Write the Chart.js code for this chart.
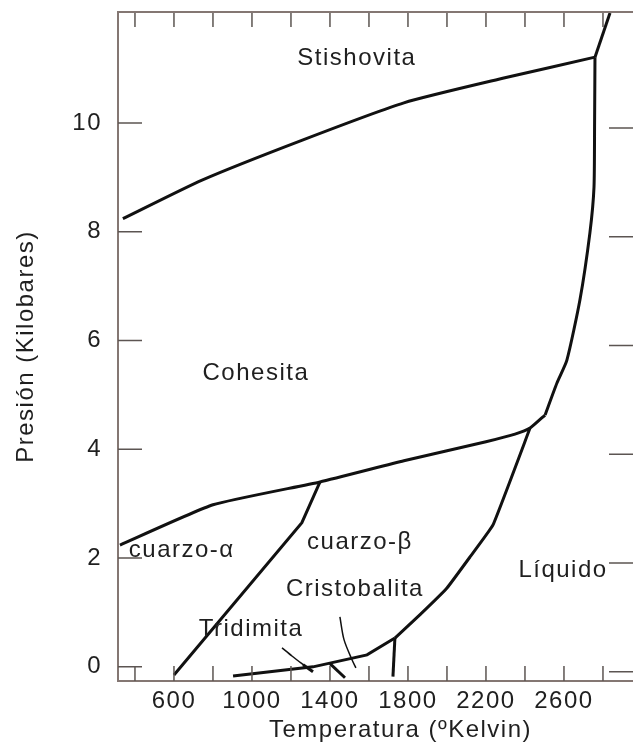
<!DOCTYPE html>
<html>
<head>
<meta charset="utf-8">
<script src="https://cdn.jsdelivr.net/npm/chart.js@4.4.1/dist/chart.umd.min.js"></script>
<style>
  html, body { margin: 0; padding: 0; background: #fff; }
  canvas { display: block; }
</style>
</head>
<body>
<canvas id="phaseChart" width="633" height="749"></canvas>
<script>
// axis ticks
const xTicks = [400, 600, 800, 1000, 1200, 1400, 1600, 1800, 2000, 2200, 2400, 2600, 2800];
const xLabelled = [600, 1000, 1400, 1800, 2200, 2600];
const yTicks = [0, 2, 4, 6, 8, 10];

// phase boundaries as [temperature K, pressure kbar]
const stishoviteCoesite = [[338, 8.24], [744, 8.95], [1262, 9.69], [1779, 10.37], [2297, 10.83], [2759, 11.21]];
const stishoviteLiquid = [[2759, 11.21], [2836, 12.02]];
const coesiteLiquid = [[2503, 4.63], [2564, 5.22], [2615, 5.64], [2682, 6.75], [2733, 7.98], [2754, 8.82], [2757, 10.0], [2759, 11.21]];
const coesiteQuartz = [[323, 2.24], [800, 2.98], [1349, 3.40], [1779, 3.79], [2200, 4.14], [2349, 4.28], [2426, 4.39], [2503, 4.63]];
const alphaBeta = [[1349, 3.40], [1256, 2.65], [600, -0.15]];
const liquidus = [[2426, 4.39], [2236, 2.61], [2118, 2.02], [2000, 1.45], [1862, 0.96], [1733, 0.53]];
const tridymiteBase = [[903, -0.17], [1313, 0.0], [1590, 0.22], [1733, 0.53]];
const cristobaliteEdge = [[1733, 0.53], [1723, -0.18]];
const tridymiteMark = [[1262, 0.04], [1313, -0.09]];
const quartzMark = [[1400, 0.06], [1477, -0.20]];

// label leaders
const tridymiteLeader = [[1154, 0.35], [1205, 0.20], [1277, 0.0]];
const cristobaliteLeader = [[1451, 0.92], [1472, 0.50], [1513, 0.13], [1533, -0.02]];

// phase names and where they sit
const phaseNames = ['Stishovita', 'Cohesita', 'cuarzo-\u03b1', 'cuarzo-\u03b2', 'Cristobalita', 'Tridimita', 'L\u00edquido'];
const phaseAt = [[1538, 11.19], [1020, 5.40], [640, 2.15], [1554, 2.28], [1528, 1.42], [995, 0.68], [2595, 1.78]];

const frameColor = '#847773';
const tickColor = '#5c5552';
const inkColor = '#111';
const textColor = '#1f1f1f';
const fontFamily = '"Liberation Sans", Arial, sans-serif';

Chart.defaults.font.family = fontFamily;

function line(points, width, tension) {
    return {
        data: points.map(p => ({ x: p[0], y: p[1] })),
        showLine: true,
        borderColor: inkColor,
        borderWidth: width,
        tension: tension || 0,
        pointRadius: 0,
        fill: false
    };
}

const decorations = {
    id: 'decorations',
    beforeDraw(chart) {
        // the scanned figure has loosely spaced lettering
        chart.ctx.letterSpacing = '1.5px';
    },
    afterDatasetsDraw(chart) {
        const { ctx, chartArea: a, scales: { x, y } } = chart;
        ctx.save();

        // inward tick marks
        ctx.strokeStyle = tickColor;
        ctx.lineWidth = 1.5;
        ctx.beginPath();
        xTicks.forEach(v => {
            const px = x.getPixelForValue(v);
            ctx.moveTo(px, a.bottom); ctx.lineTo(px, a.bottom - 15);
            ctx.moveTo(px, a.top); ctx.lineTo(px, a.top + 15);
        });
        yTicks.forEach(v => {
            const py = y.getPixelForValue(v);
            ctx.moveTo(a.left, py); ctx.lineTo(a.left + 24, py);
            ctx.moveTo(a.right, py + 5); ctx.lineTo(a.right - 24, py + 5);
        });
        ctx.stroke();

        // top frame
        ctx.strokeStyle = frameColor;
        ctx.lineWidth = 2;
        ctx.beginPath();
        ctx.moveTo(a.left, a.top); ctx.lineTo(a.right, a.top);
        ctx.stroke();

        // phase names
        ctx.fillStyle = textColor;
        ctx.font = '24px ' + fontFamily;
        ctx.textAlign = 'center';
        ctx.textBaseline = 'middle';
        phaseNames.forEach((t, i) => {
            ctx.fillText(t, x.getPixelForValue(phaseAt[i][0]), y.getPixelForValue(phaseAt[i][1]));
        });

        // x axis title
        ctx.fillText('Temperatura (\u00baKelvin)', (a.left + a.right) / 2 + 25, 730);
        ctx.restore();
    }
};

new Chart(document.getElementById('phaseChart'), {
    type: 'scatter',
    data: {
        datasets: [
            line(stishoviteCoesite, 3, 0.2),
            line(stishoviteLiquid, 3),
            line(coesiteLiquid, 3, 0.2),
            line(coesiteQuartz, 3, 0.15),
            line(alphaBeta, 3),
            line(liquidus, 3, 0.1),
            line(tridymiteBase, 3),
            line(cristobaliteEdge, 3),
            line(tridymiteMark, 3),
            line(quartzMark, 3),
            line(tridymiteLeader, 1.5, 0.3),
            line(cristobaliteLeader, 1.5, 0.3)
        ]
    },
    options: {
        responsive: false,
        animation: false,
        layout: { padding: { top: 12, right: 0, left: 0, bottom: 0 } },
        plugins: {
            legend: { display: false },
            tooltip: { enabled: false }
        },
        scales: {
            x: {
                type: 'linear',
                min: 313,
                max: 2954,
                afterBuildTicks: s => { s.ticks = xTicks.map(v => ({ value: v })); },
                afterFit: s => { s.height = 68; s.paddingLeft = 0; s.paddingRight = 0; },
                grid: { drawOnChartArea: false, drawTicks: false },
                border: { color: frameColor, width: 2 },
                ticks: {
                    autoSkip: false,
                    maxRotation: 0,
                    padding: 6,
                    color: textColor,
                    font: { size: 24 },
                    callback: v => xLabelled.includes(v) ? String(v) : ''
                }
            },
            y: {
                type: 'linear',
                min: -0.26,
                max: 12.04,
                afterBuildTicks: s => { s.ticks = yTicks.map(v => ({ value: v })); },
                afterFit: s => { s.width = 118; s.paddingTop = 0; s.paddingBottom = 0; },
                grid: { drawOnChartArea: false, drawTicks: false },
                border: { color: frameColor, width: 2 },
                ticks: {
                    padding: 16,
                    color: textColor,
                    font: { size: 24 }
                },
                title: {
                    display: true,
                    text: 'Presi\u00f3n (Kilobares)',
                    color: textColor,
                    font: { size: 24 },
                    padding: { top: 12, bottom: 0 }
                }
            }
        }
    },
    plugins: [decorations]
});
</script>
</body>
</html>
